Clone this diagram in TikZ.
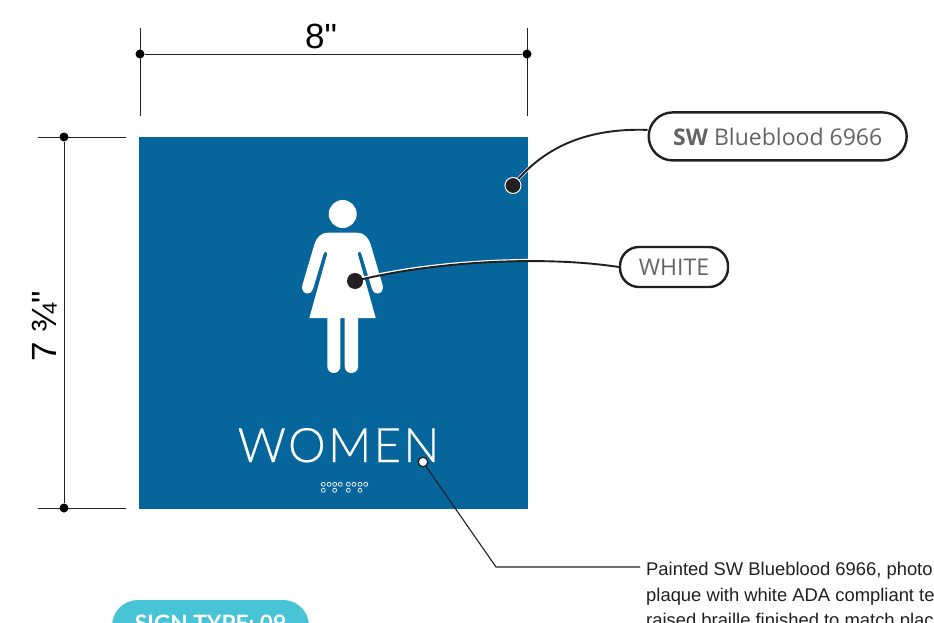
\documentclass[tikz,border=0pt]{standalone}
\usepackage{fontspec}
\setmainfont{Liberation Sans}
\newfontfamily\dimfont{Liberation Sans}
\newfontfamily\labelfont{Open Sans}
\newfontfamily\signfont{Lato}[UprightFont={* Light},LetterSpace=5,FakeBold=0.4]
\newfontfamily\tagfont{Lato}[UprightFont={* Bold}]
\definecolor{signblue}{HTML}{06659A}
\definecolor{inkdark}{HTML}{231F20}
\definecolor{labelgrey}{HTML}{636466}
\definecolor{tealpill}{HTML}{47C4D5}
\tikzset{
  dimline/.style={draw=inkdark,line width=0.9pt},
  dimdot/.style={circle,fill=black,inner sep=0pt,minimum size=9pt},
  leader/.style={draw=inkdark,line width=1.9pt},
  halo/.style={draw=white,line width=3.2pt},
  pilltag/.style={draw=inkdark,fill=white,rounded corners=#1,inner sep=0pt,line width=2.4pt,text=labelgrey},
  callout/.style={circle,fill=inkdark,inner sep=0pt,minimum size=16pt},
  brailledot/.style={draw=white,line width=0.7pt},
  notetext/.style={anchor=base west,font=\fontsize{18.4}{20}\selectfont,text=inkdark,inner sep=0pt},
  dimtext/.style={font=\dimfont\fontsize{35}{38}\selectfont,text=black,inner sep=0pt}
}
\begin{document}
\begin{tikzpicture}[x=1pt,y=-1pt]
\clip (0,0) rectangle (934,623);
\fill[white] (0,0) rectangle (934,623);
% sign plaque
\fill[signblue] (139,137) rectangle (528,509);
% figure
\fill[white] (342.7,214) circle (14);
\fill[white] (328,232.7) -- (357,232.7)
  .. controls (364,232.7) and (368,237) .. (370.5,244)
  -- (382.6,285) .. controls (384,290) and (381,293.5) .. (377.5,293.5)
  .. controls (375,293.5) and (372.8,292) .. (372,289)
  -- (361.5,254) .. controls (360.5,251) and (358.5,251) .. (357.8,254)
  -- (375.7,318) -- (309.3,318) -- (327.2,254)
  .. controls (326.5,251) and (324.5,251) .. (323.5,254)
  -- (313,289) .. controls (312.2,292) and (310,293.5) .. (307.5,293.5)
  .. controls (304,293.5) and (301,290) .. (302.4,285)
  -- (314.5,244) .. controls (317,237) and (321,232.7) .. (328,232.7) -- cycle;
\fill[white,rounded corners=6.5pt] (327.3,310) rectangle (340.3,373);
\fill[white,rounded corners=6.5pt] (344.7,310) rectangle (358,373);
% lettering
\node[inner sep=0pt,text=white,font=\signfont\fontsize{47.5}{52}\selectfont,anchor=base] (women) at (338.5,462) {WOMEN};
% braille
\foreach \bx in {323.3,329,334.7,340.3,348.3,354,360,365.7}{\draw[brailledot] (\bx,484.3) circle (2);}
\foreach \bx in {323.3,334.7,348.3,360}{\draw[brailledot] (\bx,490.3) circle (2);}
% width dimension
\coordinate (wa) at (140,54);
\coordinate (wb) at (527,54);
\draw[dimline] (140,28) -- (140,116);
\draw[dimline] (527,28) -- (527,116);
\node[dimdot] (wdotl) at (wa) {};
\node[dimdot] (wdotr) at (wb) {};
\draw[dimline] (wdotl) -- (wdotr);
\node[dimtext] (wtext) at (321,36) {8"};
% height dimension
\coordinate (ha) at (64,137);
\coordinate (hb) at (64,508);
\draw[dimline] (38,137) -- (126,137);
\draw[dimline] (38,508) -- (126,508);
\node[dimdot] (hdott) at (ha) {};
\node[dimdot] (hdotb) at (hb) {};
\draw[dimline] (hdott) -- (hdotb);
\node[dimtext,rotate=90] (htext) at (45,326) {7 ¾"};
% call-outs
\node[pilltag=24pt,minimum width=258pt,minimum height=48pt] (swtag) at (777.7,136.4) {\labelfont\fontsize{23}{26}\selectfont\textbf{SW} Blueblood 6966};
\node[pilltag=19pt,minimum width=108pt,minimum height=40pt] (whitetag) at (674,267) {\labelfont\fontsize{23}{26}\selectfont\raisebox{-2pt}{WHITE}};
\coordinate (sgdot) at (513,185.5);
\coordinate (fgdot) at (355,281);
\draw[halo] (sgdot) .. controls (545,145) and (590,128) .. ([yshift=6.5pt]swtag.west);
\draw[draw=white,line width=1.6pt] ([yshift=1.6pt]fgdot) .. controls (430,260.5) and (540,254) .. ([yshift=1.6pt]whitetag.west);
\draw[leader] (sgdot) .. controls (545,145) and (590,128) .. ([yshift=6.5pt]swtag.west);
\draw[leader] (fgdot) .. controls (430,262) and (540,255) .. (whitetag.west);
\node[callout,draw=white,line width=1pt] (swdot) at (sgdot) {};
\node[callout] (figdot) at (fgdot) {};
% note leader
\coordinate (kneept) at (496,567);
\coordinate (noteend) at (640,567);
\node[circle,draw=inkdark,fill=white,line width=1.2pt,inner sep=0pt,minimum size=9.5pt] (wdot) at (423,462) {};
\draw[draw=inkdark,line width=1.1pt] (wdot) -- (kneept) -- (noteend);
% note text
\node[notetext] (n1) at (646,575.7) {Painted SW Blueblood 6966, photo};
\node[notetext] (n2) at (646,601.2) {plaque with white ADA compliant te};
\node[notetext] (n3) at (646,626.7) {raised braille finished to match plac};
% sign-type tag
\fill[tealpill,rounded corners=26pt] (112,600) rectangle (309,690);
\node[inner sep=0pt,text=white,font=\tagfont\fontsize{22.6}{26}\selectfont,anchor=base] (tagtext) at (210.5,631) {SIGN TYPE: 09};
\end{tikzpicture}
\end{document}
